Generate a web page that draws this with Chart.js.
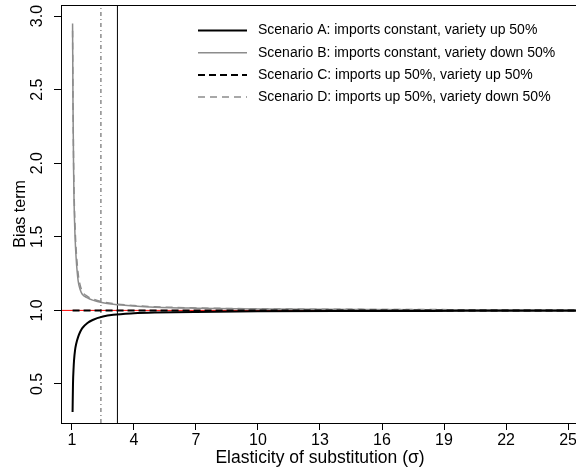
<!DOCTYPE html>
<html lang="en">
<head>
  <meta charset="UTF-8" />
  <title>Bias term by elasticity of substitution</title>
  <script src="https://cdn.jsdelivr.net/npm/chart.js"></script>
  <style>
    html, body { margin: 0; padding: 0; background: #fff; overflow: hidden; }
    #wrap { width: 576px; height: 474px; overflow: hidden; }
  </style>
</head>
<body>
  <div id="wrap"><canvas id="biasChart" width="590" height="474" style="width:590px;height:474px"></canvas></div>

  <script>
    // values
    const sigma     = [1.03, 1.05, 1.08, 1.1, 1.15, 1.2, 1.3, 1.4, 1.5, 1.75, 2, 2.5, 3, 4, 5, 7, 10, 15, 20, 25, 26];
    const scenarioA = [0.31, 0.50, 0.61, 0.66, 0.73, 0.77, 0.82, 0.855, 0.88, 0.915, 0.935, 0.958, 0.97, 0.98, 0.985, 0.99, 0.994, 0.996, 0.997, 0.998, 0.998];
    const scenarioB = [2.95, 2.40, 1.95, 1.75, 1.50, 1.36, 1.20, 1.14, 1.11, 1.085, 1.07, 1.052, 1.042, 1.03, 1.022, 1.015, 1.01, 1.006, 1.005, 1.004, 1.004];
    const scenarioC = [1, 1, 1, 1, 1, 1, 1, 1, 1, 1, 1, 1, 1, 1, 1, 1, 1, 1, 1, 1, 1];
    const scenarioD = [2.90, 2.45, 2.00, 1.82, 1.57, 1.42, 1.25, 1.17, 1.13, 1.095, 1.078, 1.058, 1.046, 1.033, 1.025, 1.017, 1.011, 1.007, 1.005, 1.004, 1.004];

    const xTicks = [1, 4, 7, 10, 13, 16, 19, 22, 25];
    const yTicks = [0.5, 1.0, 1.5, 2.0, 2.5, 3.0];
    const xRange = [0.47, 25.53];
    const yRange = [0.235, 3.075];

    const refLineY = 1;        // red horizontal line
    const vLineDotDash = 2.4;  // grey dot-dash vertical line
    const vLineSolid = 3.2;    // thin black vertical line

    const legendLabels = [
      'Scenario A: imports constant, variety up 50%',
      'Scenario B: imports constant, variety down 50%',
      'Scenario C: imports up 50%, variety up 50%',
      'Scenario D: imports up 50%, variety down 50%'
    ];

    const FONT = '"Liberation Sans", Arial, Helvetica, sans-serif';
    const GREY = '#8c8c8c';

    const pts = ys => sigma.map((s, i) => ({ x: s, y: ys[i] }));

    const curve = (label, ys, color, width, dash, order) => ({
      label, data: pts(ys), borderColor: color, borderWidth: width,
      borderDash: dash, pointRadius: 0, cubicInterpolationMode: 'monotone',
      inLegend: true, order
    });

    const datasets = [
      curve(legendLabels[0], scenarioA, '#000', 2, [], 2),
      curve(legendLabels[1], scenarioB, GREY, 1.5, [], 4),
      curve(legendLabels[2], scenarioC, '#000', 2, [7, 4], 1),
      curve(legendLabels[3], scenarioD, GREY, 1.5, [7, 5], 3),
      { label: 'ref', data: [{ x: xRange[0], y: refLineY }, { x: xRange[1], y: refLineY }],
        borderColor: '#ff0000', borderWidth: 1, pointRadius: 0, order: 6 },
      { label: 'v1', data: [{ x: vLineDotDash, y: yRange[0] }, { x: vLineDotDash, y: yRange[1] }],
        borderColor: GREY, borderWidth: 1.5, borderDash: [4, 3, 1, 3], pointRadius: 0, order: 7 },
      { label: 'v2', data: [{ x: vLineSolid, y: yRange[0] }, { x: vLineSolid, y: yRange[1] }],
        borderColor: '#000', borderWidth: 1, pointRadius: 0, order: 8 }
    ];

    // axis labels, box and legend drawn the way R lays them out
    const extras = {
      id: 'extras',
      afterDraw(chart) {
        const { ctx, chartArea: a, scales } = chart;
        ctx.save();

        // box
        ctx.strokeStyle = '#000';
        ctx.lineWidth = 1;
        ctx.strokeRect(Math.round(a.left) + 0.5, Math.round(a.top) + 0.5,
                       Math.round(a.right - a.left), Math.round(a.bottom - a.top));

        // y tick labels, rotated
        ctx.fillStyle = '#000';
        ctx.font = '16px ' + FONT;
        ctx.textAlign = 'center';
        ctx.textBaseline = 'middle';
        yTicks.forEach(v => {
          const y = scales.y.getPixelForValue(v);
          ctx.save();
          ctx.translate(38, y);
          ctx.rotate(-Math.PI / 2);
          ctx.fillText(v.toFixed(1), 0, 0);
          ctx.restore();
        });

        // axis titles
        ctx.save();
        ctx.translate(21, (a.top + a.bottom) / 2);
        ctx.rotate(-Math.PI / 2);
        ctx.fillText('Bias term', 0, 0);
        ctx.restore();
        ctx.font = '17.5px ' + FONT;
        ctx.fillText('Elasticity of substitution (\u03c3)', (a.left + a.right) / 2, 458);

        // legend
        ctx.font = '14px ' + FONT;
        ctx.textAlign = 'left';
        chart.data.datasets.filter(d => d.inLegend).forEach((d, i) => {
          const y = 30.5 + i * 22.2;
          ctx.beginPath();
          ctx.strokeStyle = d.borderColor;
          ctx.lineWidth = d.borderWidth;
          ctx.setLineDash(d.borderDash);
          ctx.moveTo(198, y);
          ctx.lineTo(247, y);
          ctx.stroke();
          ctx.setLineDash([]);
          ctx.fillText(d.label, 258, y);
        });

        ctx.restore();
      }
    };

    new Chart(document.getElementById('biasChart'), {
      type: 'line',
      data: { datasets },
      plugins: [extras],
      options: {
        responsive: false,
        animation: false,
        layout: { padding: { top: 5, right: 11, left: 0, bottom: 0 } },
        plugins: { legend: { display: false }, tooltip: { enabled: false } },
        scales: {
          x: {
            type: 'linear', min: xRange[0], max: xRange[1],
            afterBuildTicks: s => { s.ticks = xTicks.map(v => ({ value: v })); },
            afterFit: s => { s.height = 51; },
            grid: { drawOnChartArea: false, tickLength: 7, color: '#000' },
            border: { display: false },
            ticks: { color: '#000', padding: 1, maxRotation: 0, font: { family: FONT, size: 16 } }
          },
          y: {
            type: 'linear', min: yRange[0], max: yRange[1],
            afterBuildTicks: s => { s.ticks = yTicks.map(v => ({ value: v })); },
            afterFit: s => { s.width = 61; },
            grid: { drawOnChartArea: false, tickLength: 7, color: '#000' },
            border: { display: false },
            ticks: { display: false }
          }
        }
      }
    });
  </script>
</body>
</html>
